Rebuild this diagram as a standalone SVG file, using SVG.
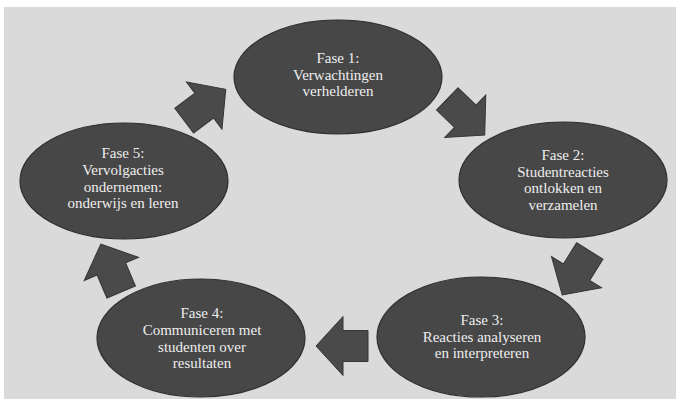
<svg xmlns="http://www.w3.org/2000/svg" width="676" height="399" viewBox="0 0 676 399">
<style>
.node ellipse{fill:#474747;stroke:#2f2f2f;stroke-width:1.2}
.node text{fill:#eeeeee;font-size:15px;text-anchor:middle}
.arrow{fill:#4a4a4a;stroke:#353535;stroke-width:1}
</style>
<defs>
<path id="blk" d="M -26 -15.5 L -1 -15.5 L -1 -29.5 L 26 0 L -1 29.5 L -1 15.5 L -26 15.5 Z"/>
</defs>
<rect x="0" y="0" width="676" height="399" fill="#ffffff"/>
<rect x="4" y="7" width="672" height="392" fill="#dadada"/>
<g id="connectors">
<use href="#blk" class="arrow" transform="translate(205,105) rotate(-37)"/>
<use href="#blk" class="arrow" transform="translate(466,117) rotate(44)"/>
<use href="#blk" class="arrow" transform="translate(576,273) rotate(122)"/>
<use href="#blk" class="arrow" transform="translate(342,346) rotate(180)"/>
<use href="#blk" class="arrow" transform="translate(111,268) rotate(-113)"/>
</g>
<g font-family="'Liberation Serif', 'DejaVu Serif', serif">
<g id="fase1" class="node">
<ellipse cx="338" cy="77" rx="104" ry="57"/>
<text x="338" y="63">Fase 1:</text>
<text x="338" y="80">Verwachtingen</text>
<text x="338" y="96">verhelderen</text>
</g>
<g id="fase2" class="node">
<ellipse cx="563" cy="180" rx="104" ry="58"/>
<text x="563" y="160">Fase 2:</text>
<text x="563" y="177">Studentreacties</text>
<text x="563" y="193">ontlokken en</text>
<text x="563" y="210">verzamelen</text>
</g>
<g id="fase3" class="node">
<ellipse cx="481" cy="337" rx="104" ry="60"/>
<text x="482" y="325">Fase 3:</text>
<text x="482" y="342">Reacties analyseren</text>
<text x="482" y="358">en interpreteren</text>
</g>
<g id="fase4" class="node">
<ellipse cx="201" cy="338" rx="104" ry="59"/>
<text x="202" y="318">Fase 4:</text>
<text x="202" y="335">Communiceren met</text>
<text x="202" y="352">studenten over</text>
<text x="202" y="368">resultaten</text>
</g>
<g id="fase5" class="node">
<ellipse cx="124" cy="181" rx="104" ry="58"/>
<text x="123" y="158">Fase 5:</text>
<text x="123" y="175">Vervolgacties</text>
<text x="123" y="192">ondernemen:</text>
<text x="123" y="208">onderwijs en leren</text>
</g>
</g>
</svg>
